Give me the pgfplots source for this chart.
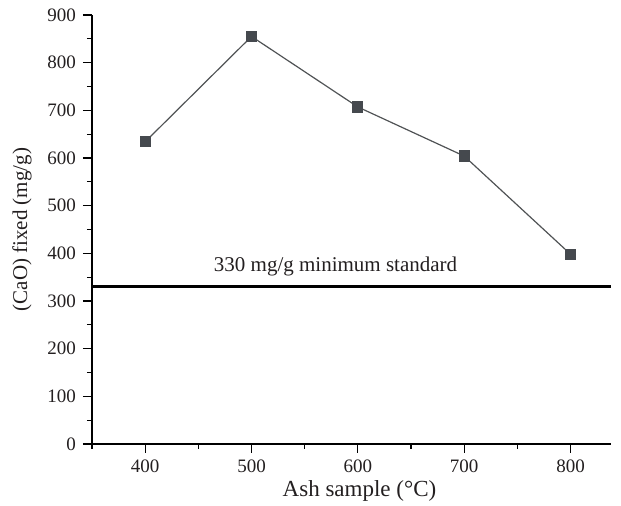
\documentclass[border=0pt]{standalone}
\usepackage{pgfplots}
\pgfplotsset{compat=1.18}
\usepackage{fontspec}
\setmainfont{Liberation Serif}
\definecolor{markgray}{HTML}{45494E}
\definecolor{linegray}{HTML}{505355}
\definecolor{textdark}{HTML}{231F20}
\begin{document}
\begin{tikzpicture}
    % page frame, same proportions as the reference (621x506)
    \useasboundingbox (-46pt,-31pt) rectangle (264.5pt,222pt);
    \begin{axis}[
        scale only axis,
        width=259.5pt, height=214.5pt,
        xmin=350, xmax=838,
        ymin=0, ymax=900,
        axis x line*=bottom, axis y line*=left,
        xtick={400,500,...,800},
        ytick={0,100,...,900},
        minor xtick={350,450,...,750},
        minor ytick={50,150,...,850},
        tick align=outside,
        major tick length=4.5pt, minor tick length=2.5pt,
        every tick/.style={black, line width=0.6pt},
        axis line style={black, line width=0.7pt},
        tick label style={font=\fontsize{9.5}{11}\selectfont, color=textdark},
        /pgf/number format/assume math mode=true,
        xlabel={Ash sample (°C)},
        ylabel={(CaO) fixed (mg/g)},
        xlabel style={font=\fontsize{11.5}{13}\selectfont, color=textdark, yshift=3pt, xshift=4pt},
        ylabel style={font=\fontsize{10.5}{12}\selectfont, color=textdark, yshift=1pt},
        clip=false,
        ]
        % minimum standard
        \addplot[black, line width=1.5pt] coordinates {(350,330) (838,330)};
        \node[font=\fontsize{10.5}{12}\selectfont, color=textdark]
            at (axis cs:579,372) {330 mg/g minimum standard};

        \addplot[linegray, line width=0.6pt, mark=square*, mark size=2.5pt,
            mark options={fill=markgray, draw=markgray}] coordinates {
            (400,634)
            (500,855)
            (600,707)
            (700,604)
            (800,398)
        };
    \end{axis}
\end{tikzpicture}
\end{document}
